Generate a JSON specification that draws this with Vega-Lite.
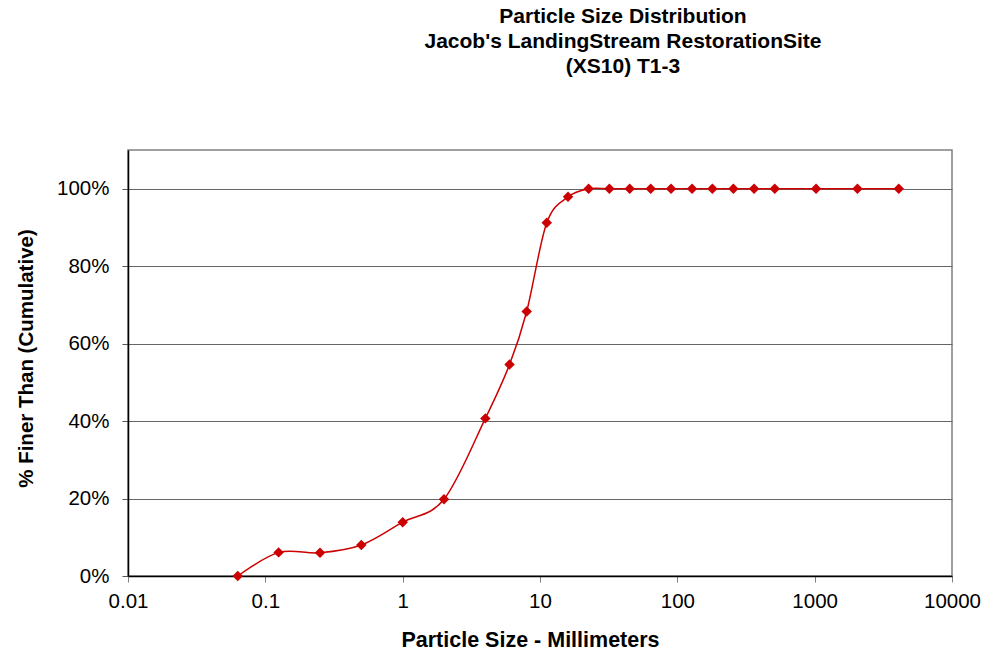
{
  "$schema": "https://vega.github.io/schema/vega-lite/v6.json",
  "width": 824,
  "height": 426,
  "autosize": "none",
  "padding": {"left": 128, "top": 150, "right": 34, "bottom": 81},
  "background": "white",
  "title": {
    "text": ["Particle Size Distribution", "Jacob's LandingStream RestorationSite", "(XS10) T1-3"],
    "font": "Liberation Sans",
    "fontSize": 21,
    "fontWeight": "bold",
    "color": "black",
    "lineHeight": 25,
    "anchor": "middle",
    "frame": "group",
    "dx": 83,
    "offset": 73
  },
  "config": {
    "view": {"stroke": "#808080", "strokeWidth": 1.5},
    "font": "Liberation Sans"
  },
  "data": {
    "values": [
      {"size": 0.063, "finer": 0.0},
      {"size": 0.125, "finer": 0.061},
      {"size": 0.25, "finer": 0.06},
      {"size": 0.5, "finer": 0.08},
      {"size": 1, "finer": 0.139},
      {"size": 2, "finer": 0.198},
      {"size": 4, "finer": 0.407},
      {"size": 6, "finer": 0.546},
      {"size": 8, "finer": 0.683},
      {"size": 11.2, "finer": 0.912},
      {"size": 16, "finer": 0.979},
      {"size": 22.6, "finer": 1.0},
      {"size": 32, "finer": 1.0},
      {"size": 45, "finer": 1.0},
      {"size": 64, "finer": 1.0},
      {"size": 90, "finer": 1.0},
      {"size": 128, "finer": 1.0},
      {"size": 180, "finer": 1.0},
      {"size": 256, "finer": 1.0},
      {"size": 362, "finer": 1.0},
      {"size": 512, "finer": 1.0},
      {"size": 1024, "finer": 1.0},
      {"size": 2048, "finer": 1.0},
      {"size": 4096, "finer": 1.0}
    ]
  },
  "encoding": {
    "x": {
      "field": "size",
      "type": "quantitative",
      "scale": {"type": "log", "domain": [0.01, 10000], "nice": false},
      "axis": {
        "title": "Particle Size - Millimeters",
        "values": [0.01, 0.1, 1, 10, 100, 1000, 10000],
        "format": "~g",
        "grid": false,
        "domainColor": "black",
        "domainWidth": 1.5,
        "tickColor": "#808080",
        "tickSize": 6,
        "labelFontSize": 20.5,
        "labelColor": "black",
        "labelPadding": 9,
        "labelFlush": false,
        "titleFontSize": 21.5,
        "titleFontWeight": "bold",
        "titleColor": "black",
        "titlePadding": 18,
        "titleX": 402
      }
    },
    "y": {
      "field": "finer",
      "type": "quantitative",
      "scale": {"domain": [0, 1.1], "nice": false},
      "axis": {
        "title": "% Finer Than (Cumulative)",
        "values": [0, 0.2, 0.4, 0.6, 0.8, 1.0],
        "format": ".0%",
        "grid": true,
        "gridColor": "#666666",
        "gridWidth": 1,
        "domainColor": "black",
        "domainWidth": 1.5,
        "tickColor": "#555555",
        "tickSize": 6,
        "labelFontSize": 20.5,
        "labelColor": "black",
        "labelPadding": 13,
        "titleFontSize": 20.5,
        "titleFontWeight": "bold",
        "titleColor": "black",
        "titlePadding": 20,
        "titleY": 208
      }
    }
  },
  "layer": [
    {
      "mark": {"type": "line", "interpolate": "cardinal", "color": "#CC0000", "strokeWidth": 1.5}
    },
    {
      "mark": {"type": "point", "shape": "diamond", "filled": true, "color": "#CC0000", "size": 110, "opacity": 1}
    }
  ]
}
